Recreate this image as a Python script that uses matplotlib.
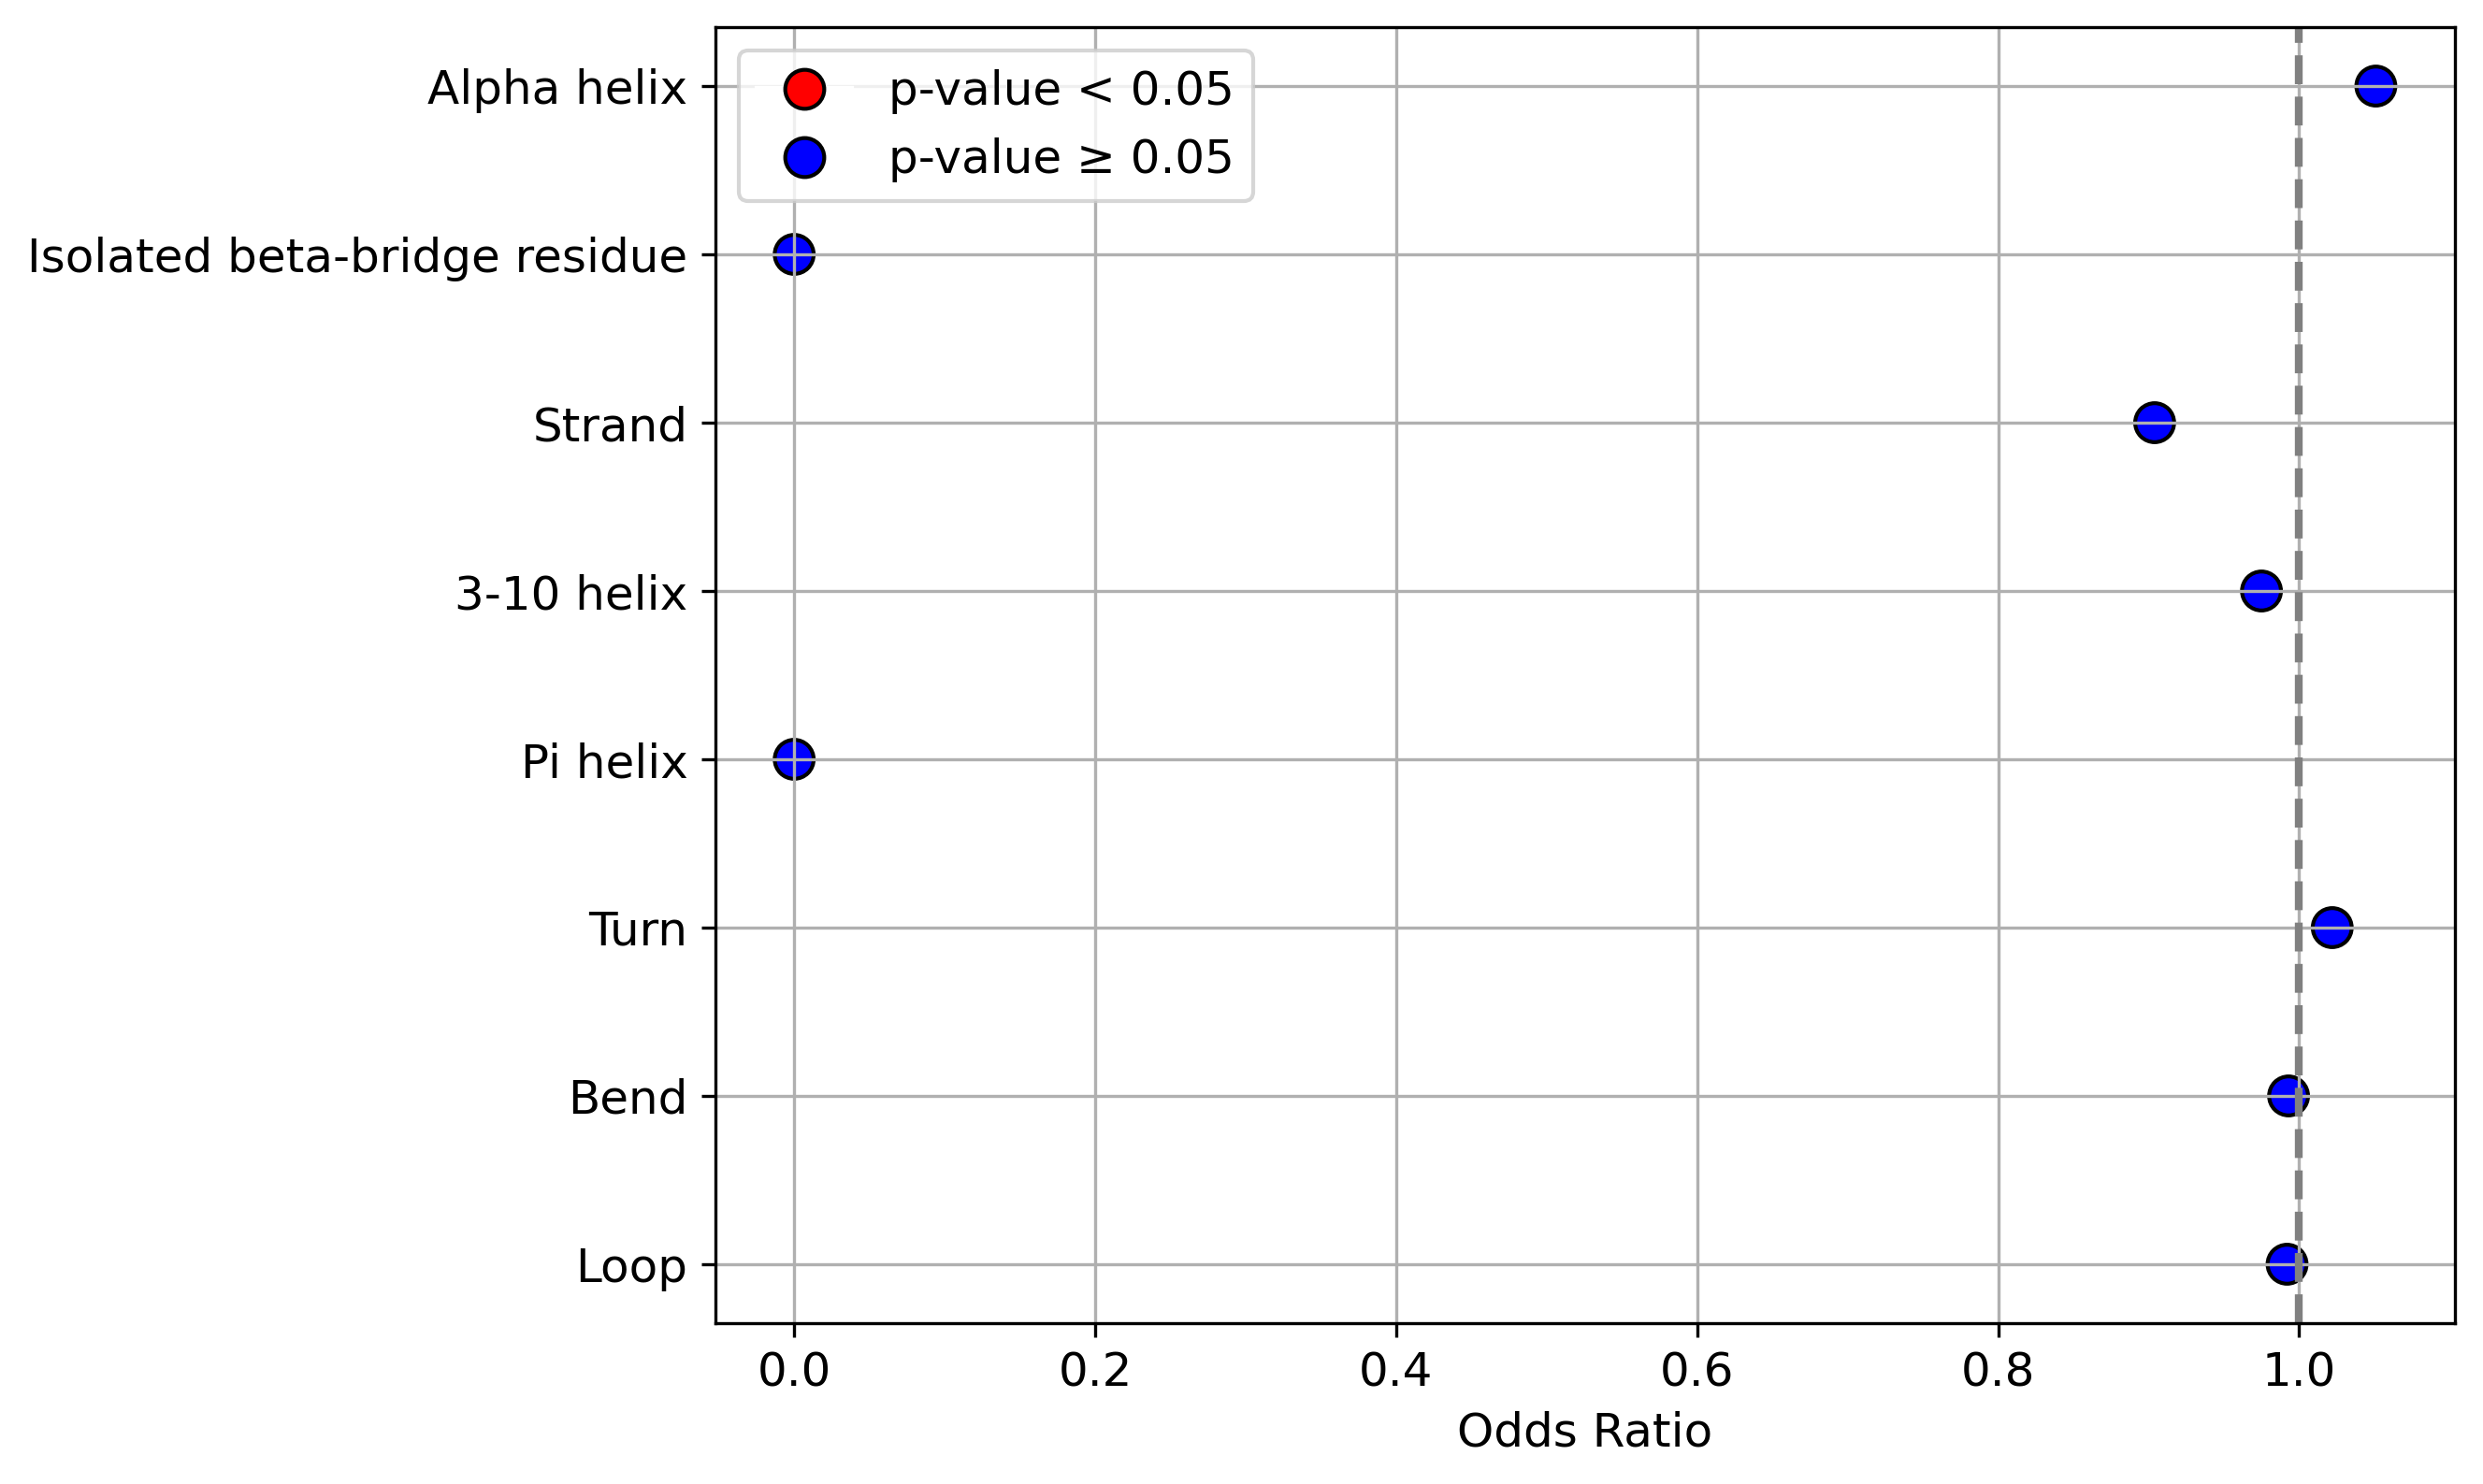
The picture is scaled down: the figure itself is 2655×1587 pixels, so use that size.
import matplotlib
matplotlib.use("Agg")
import matplotlib.pyplot as plt
from matplotlib.lines import Line2D

categories = ["Alpha helix", "Isolated beta-bridge residue", "Strand", "3-10 helix",
              "Pi helix", "Turn", "Bend", "Loop"]
odds_ratio = [1.051, 0.0, 0.904, 0.975, 0.0, 1.022, 0.993, 0.992]
p_values = [0.3, 1.0, 0.4, 0.8, 1.0, 0.5, 0.9, 0.8]

colors = ["red" if p < 0.05 else "blue" for p in p_values]
ypos = list(range(len(categories)))

fig, ax = plt.subplots(figsize=(8.85, 5.29), dpi=300)
fig.subplots_adjust(left=0.288, right=0.9887, top=0.9817, bottom=0.1084)

ax.scatter(odds_ratio, ypos, c=colors, s=100, edgecolors="black")
ax.axvline(1, color="gray", linestyle="--", linewidth=2)
ax.set_yticks(ypos)
ax.set_yticklabels(categories, fontsize=12)
ax.invert_yaxis()
ax.tick_params(axis="x", labelsize=12)
ax.set_xlabel("Odds Ratio", fontsize=12)
ax.grid(True)

handles = [
    Line2D([0], [0], marker="o", color="w", markerfacecolor="red",
           markeredgecolor="black", markersize=10, label="p-value < 0.05"),
    Line2D([0], [0], marker="o", color="w", markerfacecolor="blue",
           markeredgecolor="black", markersize=10, label="p-value \u2265 0.05"),
]
ax.legend(handles=handles, loc="upper left", fontsize=12)

fig.savefig("out.png", dpi=300)
